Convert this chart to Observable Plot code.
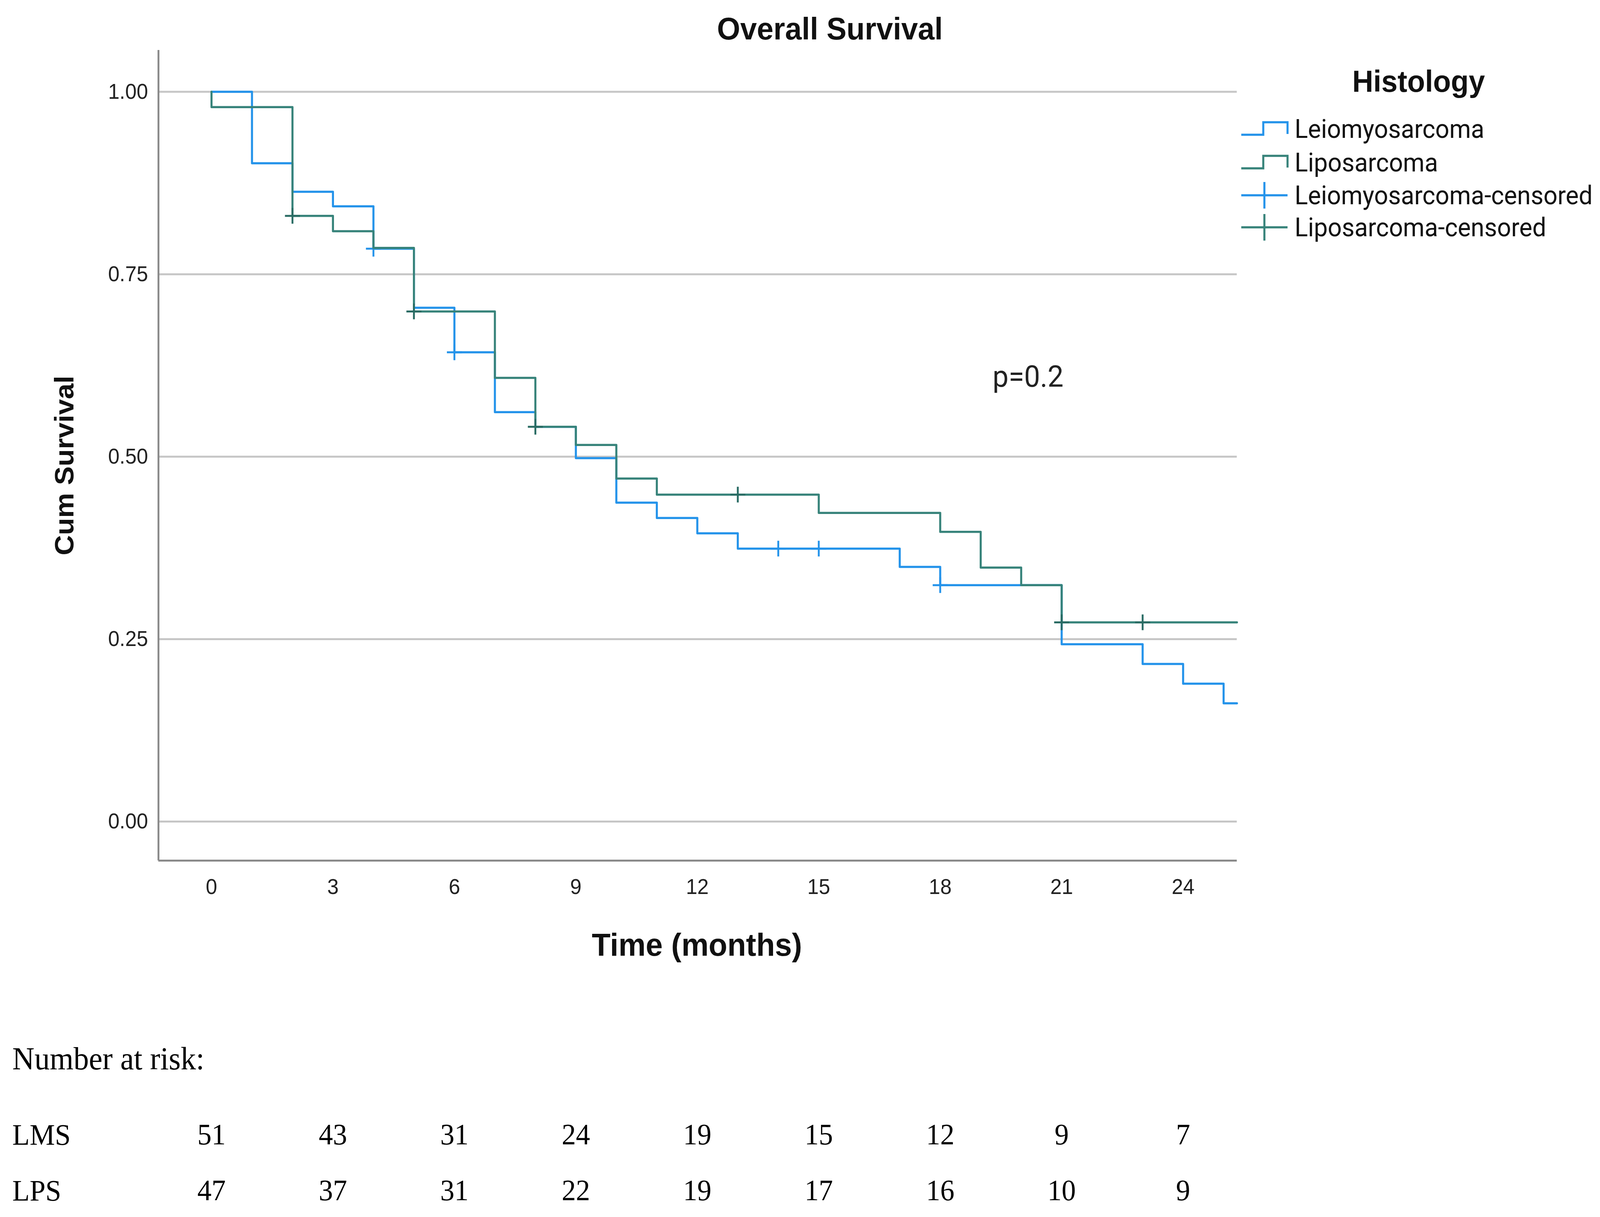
<!DOCTYPE html>
<html>
<head>
<meta charset="utf-8">
<script src="https://cdn.jsdelivr.net/npm/d3@7"></script>
<script src="https://cdn.jsdelivr.net/npm/@observablehq/plot@0.6"></script>
<style>
  html, body { margin: 0; padding: 0; background: #fff; overflow: hidden; }
  #page { position: relative; width: 4286px; height: 3116px; overflow: hidden; background: #fff; transform-origin: 0 0; }
  .abs { position: absolute; white-space: nowrap; line-height: 1; }
  #page svg { display: block; max-width: none !important; }
</style>
</head>
<body>
<div id="page"></div>
<script>
// ---------------- data ----------------
const chartTitle = "Overall Survival";
const xLabel = "Time (months)";
const yLabel = "Cum Survival";
const legendTitle = "Histology";
const pValueText = "p=0.2";

const groups = ["Leiomyosarcoma", "Liposarcoma"];

// Kaplan–Meier steps (time in months, cumulative survival)
const lmsTime = [0, 1, 2, 3, 4, 5, 6, 7, 8, 9, 10, 11, 12, 13, 17, 18, 21, 23, 24, 25, 25.33];
const lmsSurv = [1.000, 0.902, 0.863, 0.843, 0.785, 0.704, 0.643, 0.561, 0.541, 0.498, 0.437, 0.416, 0.395, 0.374, 0.349, 0.324, 0.243, 0.216, 0.189, 0.162, 0.162];

const lpsTime = [0, 0, 2, 3, 4, 5, 7, 8, 9, 10, 11, 15, 18, 19, 20, 21, 25.33];
const lpsSurv = [1.000, 0.979, 0.830, 0.809, 0.786, 0.699, 0.608, 0.541, 0.516, 0.470, 0.448, 0.423, 0.397, 0.348, 0.324, 0.273, 0.273];

// censored observations
const lmsCensorTime = [4, 6, 14, 15, 18];
const lmsCensorSurv = [0.785, 0.643, 0.374, 0.374, 0.324];
const lpsCensorTime = [2, 5, 8, 13, 21, 23];
const lpsCensorSurv = [0.830, 0.699, 0.541, 0.448, 0.273, 0.273];

// axes
const xTicks = [0, 3, 6, 9, 12, 15, 18, 21, 24];
const yTicks = [0, 0.25, 0.5, 0.75, 1];
const xDomain = [-1.31, 25.33];
const yDomain = [-0.0535, 1.057];

// p-value annotation position (data units)
const pValueAt = { t: 20.17, s: 0.609 };

// number at risk
const riskTitle = "Number at risk:";
const riskGroups = ["LMS", "LPS"];
const riskTimes = [0, 3, 6, 9, 12, 15, 18, 21, 24];
const lmsAtRisk = [51, 43, 31, 24, 19, 15, 12, 9, 7];
const lpsAtRisk = [47, 37, 31, 22, 19, 17, 16, 10, 9];

const legendLabels = ["Leiomyosarcoma", "Liposarcoma", "Leiomyosarcoma-censored", "Liposarcoma-censored"];

// ---------------- styles ----------------
const blue = "#2493ea";
const green = "#37837a";
const page = document.getElementById("page");

// fit the 4286x3116 page into whatever viewport we get (fills it)
function fitPage() {
  const vw = document.documentElement.clientWidth || window.innerWidth;
  const vh = document.documentElement.clientHeight || window.innerHeight;
  const sx = vw / 4286, sy = vh / 3116;
  page.style.transform = (Math.abs(sx - 1) < 1e-3 && Math.abs(sy - 1) < 1e-3) ? "none" : `scale(${sx}, ${sy})`;
}
fitPage();
window.addEventListener("resize", fitPage);

// ---------------- build tables ----------------
const lmsRows = lmsTime.map((t, i) => ({ t, s: lmsSurv[i], g: groups[0] }));
const lpsRows = lpsTime.map((t, i) => ({ t, s: lpsSurv[i], g: groups[1] }));
const lmsCens = lmsCensorTime.map((t, i) => ({ t, s: lmsCensorSurv[i] }));
const lpsCens = lpsCensorTime.map((t, i) => ({ t, s: lpsCensorSurv[i] }));

// ---------------- main chart ----------------
const chart = Plot.plot({
  width: 4286,
  height: 2480,
  marginLeft: 424,
  marginRight: 973,
  marginTop: 128,
  marginBottom: 277,
  style: { fontFamily: "Liberation Sans, Arial, sans-serif", background: "#fff", color: "#222" },
  x: { domain: xDomain, axis: null },
  y: { domain: yDomain, axis: null },
  marks: [
    Plot.gridY(yTicks, { stroke: "#c6c6c6", strokeOpacity: 1, strokeWidth: 5 }),
    Plot.ruleX([xDomain[0]], { stroke: "#8a8a8a", strokeWidth: 5 }),
    Plot.ruleY([yDomain[0]], { stroke: "#8a8a8a", strokeWidth: 5 }),
    Plot.axisY({ ticks: yTicks, tickFormat: d3.format(".2f"), tickSize: 0, tickPadding: 28, fontSize: 55, label: null }),
    Plot.axisX({ ticks: xTicks, tickFormat: d3.format("d"), tickSize: 0, tickPadding: 46, fontSize: 55, label: null }),
    Plot.line(lmsRows, { x: "t", y: "s", stroke: blue, strokeWidth: 5.5, curve: "step-after" }),
    Plot.dot(lmsCens, { x: "t", y: "s", symbol: "plus", r: 13, stroke: blue, strokeWidth: 5 }),
    Plot.line(lpsRows, { x: "t", y: "s", stroke: green, strokeWidth: 5.5, curve: "step-after" }),
    Plot.dot(lpsCens, { x: "t", y: "s", symbol: "plus", r: 13, stroke: "#2a6c64", strokeWidth: 5 }),
    Plot.text([pValueAt], { x: "t", y: "s", text: () => pValueText, fontSize: 76, fontFamily: "Roboto, sans-serif", fill: "#222" })
  ]
});
chart.style.position = "absolute";
chart.style.left = "0px";
chart.style.top = "0px";
page.appendChild(chart);

// ---------------- texts around the chart ----------------
function addText(txt, css) {
  const d = document.createElement("div");
  d.className = "abs";
  d.textContent = txt;
  Object.assign(d.style, css);
  page.appendChild(d);
  return d;
}
addText(chartTitle, { left: "2223px", top: "74px", transform: "translate(-50%,-50%)",
  font: "bold 80px 'Liberation Sans', Arial, sans-serif", color: "#111" });
addText(xLabel, { left: "1867px", top: "2419px", transform: "translate(-50%,-50%)",
  font: "bold 82px 'Liberation Sans', Arial, sans-serif", color: "#111" });
addText(yLabel, { left: "172px", top: "1192px", transform: "translate(-50%,-50%) rotate(-90deg)",
  font: "bold 72px 'Liberation Sans', Arial, sans-serif", color: "#111" });

// ---------------- legend ----------------
addText(legendTitle, { left: "3800px", top: "208px", transform: "translate(-50%,-50%)",
  font: "bold 78px 'Liberation Sans', Arial, sans-serif", color: "#111" });
const legendY = [330, 416, 500, 582];
const legendColors = [blue, green, blue, green];
legendLabels.forEach((lab, i) => {
  const cy = legendY[i];
  const sw = d3.create("svg").attr("width", 130).attr("height", 80)
    .style("position", "absolute").style("left", "3322px").style("top", (cy - 40) + "px");
  if (i < 2) {
    sw.append("path").attr("d", "M3,55 H62 V23 H127 V53")
      .attr("fill", "none").attr("stroke", legendColors[i]).attr("stroke-width", 5.5);
  } else {
    sw.append("path").attr("d", "M3,40 H127 M65,6 V74")
      .attr("fill", "none").attr("stroke", legendColors[i]).attr("stroke-width", 5.5);
  }
  page.appendChild(sw.node());
  addText(lab, { left: "3468px", top: cy + "px", transform: "translateY(-50%)",
    font: "66px Roboto, sans-serif", color: "#111" });
});

// ---------------- number at risk ----------------
addText(riskTitle, { left: "33px", top: "2711px", transform: "translateY(-50%)",
  font: "82px 'Liberation Serif', 'Times New Roman', serif", color: "#000" });
const riskLabelY = [2905, 3048];
riskGroups.forEach((g, i) => addText(g, { left: "33px", top: riskLabelY[i] + "px", transform: "translateY(-50%)",
  font: "76px 'Liberation Serif', 'Times New Roman', serif", color: "#000" }));

const riskRows = [
  ...riskTimes.map((t, i) => ({ t, g: riskGroups[0], n: lmsAtRisk[i] })),
  ...riskTimes.map((t, i) => ({ t, g: riskGroups[1], n: lpsAtRisk[i] }))
];
const risk = Plot.plot({
  width: 4286,
  height: 286,
  marginLeft: 424,
  marginRight: 973,
  marginTop: 75,
  marginBottom: 68,
  style: { background: "transparent" },
  x: { domain: xDomain, axis: null },
  y: { type: "point", domain: riskGroups, padding: 0, axis: null },
  marks: [
    Plot.text(riskRows, { x: "t", y: "g", text: "n", fontSize: 76, fontFamily: "Liberation Serif, Times New Roman, serif", fill: "#000" })
  ]
});
risk.style.position = "absolute";
risk.style.left = "0px";
risk.style.top = "2830px";
page.appendChild(risk);
</script>
</body>
</html>
